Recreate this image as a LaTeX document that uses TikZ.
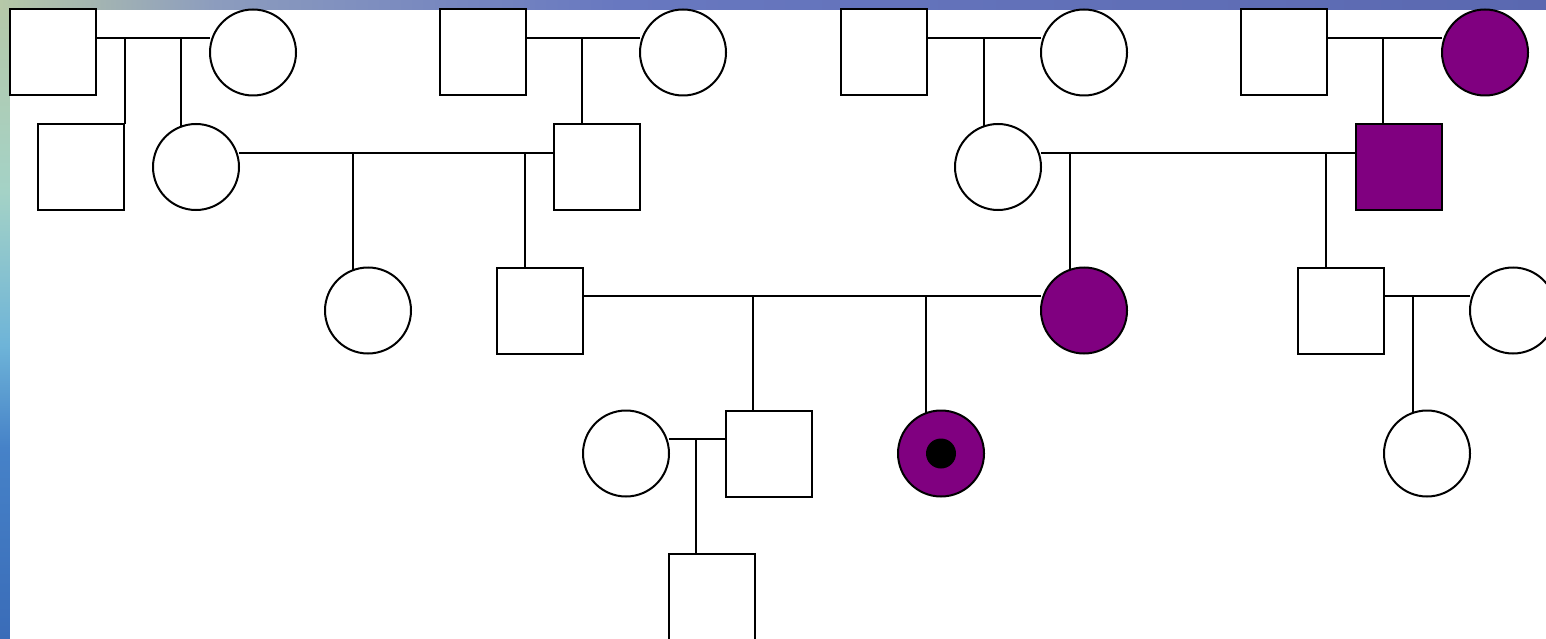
\documentclass[tikz,border=0pt]{standalone}
\usetikzlibrary{calc}
\definecolor{affected}{HTML}{800080}
\definecolor{bgGreen}{HTML}{B6C8A8}
\definecolor{bgGreyBlue}{HTML}{8C9CBE}
\definecolor{bgBlue}{HTML}{6878C0}
\definecolor{bgBlueR}{HTML}{5A68B0}
\definecolor{bgTeal}{HTML}{A4D2C6}
\definecolor{bgCyan}{HTML}{6EB4D8}
\definecolor{bgMid}{HTML}{4682C8}
\definecolor{bgDeep}{HTML}{3A6CB8}
\pgfdeclarehorizontalshading{topstrip}{100bp}{color(0bp)=(bgGreen); color(25bp)=(bgGreen); color(32bp)=(bgGreyBlue); color(45bp)=(bgBlue); color(75bp)=(bgBlueR); color(100bp)=(bgBlueR)}
\pgfdeclareverticalshading{leftstrip}{100bp}{color(0bp)=(bgDeep); color(25bp)=(bgDeep); color(40bp)=(bgMid); color(48bp)=(bgCyan); color(60bp)=(bgTeal); color(75bp)=(bgGreen); color(100bp)=(bgGreen)}
\tikzset{
  person/.style={draw=black, line width=2pt, fill=white, inner sep=0pt, minimum size=86pt},
  male/.style={person, rectangle},
  female/.style={person, circle},
  aff/.style={fill=affected},
  link/.style={line width=2pt, line cap=rect},
}
\begin{document}
\begin{tikzpicture}[x=1pt,y=-1pt]
\useasboundingbox (0,0) rectangle (1546,639);
% background frame
\shade[shading=leftstrip] (0,0) rectangle (10,639);
\shade[shading=topstrip] (0,0) rectangle (1546,10);
\fill[white] (10,10) rectangle (1546,639);

% generation I
\node[male]   (S1) at (53,52.5) {};
\node[female] (C1) at (253,52.5) {};
\node[male]   (S2) at (482.5,52.5) {};
\node[female] (C2) at (683,52.5) {};
\node[male]   (S3) at (883.5,52.5) {};
\node[female] (C3) at (1084,52.5) {};
\node[male]   (S4) at (1284,52.5) {};
\node[female,aff] (C4) at (1485,52.5) {};
% generation II
\node[male]   (S5) at (81,167) {};
\node[female] (C5) at (196,167) {};
\node[male]   (S6) at (597,167) {};
\node[female] (C6) at (998,167) {};
\node[male,aff] (S7) at (1399,167) {};
% generation III
\node[female] (C7) at (368,310.5) {};
\node[male]   (S8) at (539.5,310.5) {};
\node[female,aff] (C8) at (1084,310.5) {};
\node[male]   (S9) at (1341,310.5) {};
\node[female] (C9) at (1513,310.5) {};
% generation IV
\node[female] (C10) at (626,453.5) {};
\node[male]   (S10) at (768.5,453.5) {};
\node[female,aff] (C11) at (941,453.5) {};
\node[circle, fill=black, minimum size=30pt, inner sep=0pt] (dot) at (C11.center) {};
\node[female] (C12) at (1427,453.5) {};
% generation V
\node[male]   (S11) at (711.5,597) {};

% marriage line levels
\coordinate (y1) at (0,38);
\coordinate (y2) at (0,153);
\coordinate (y3) at (0,296);
\coordinate (y4) at (0,439);
% attachment points on square tops
\coordinate (d6)  at ($(S6.north west)+(29,0)$);
\coordinate (d7)  at ($(S7.north west)+(28,0)$);
\coordinate (d8)  at ($(S8.north west)+(29,0)$);
\coordinate (d9)  at ($(S9.north west)+(29,0)$);
\coordinate (d10) at ($(S10.north west)+(28,0)$);
\coordinate (d11) at ($(S11.north west)+(28,0)$);

% marriage lines
\draw[link] (S1.east |- y1) -- (C1.west |- y1);
\draw[link] (S2.east |- y1) -- (C2.west |- y1);
\draw[link] (S3.east |- y1) -- (C3.west |- y1);
\draw[link] (S4.east |- y1) -- (C4.west |- y1);
\draw[link] (C5.east |- y2) -- (S6.west |- y2);
\draw[link] (C6.east |- y2) -- (S7.west |- y2);
\draw[link] (S8.east |- y3) -- (C8.west |- y3);
\draw[link] (S9.east |- y3) -- (C9.west |- y3);
\draw[link] (C10.east |- y4) -- (S10.west |- y4);

% descent lines
\draw[link] (S5.north east |- y1) -- (S5.north east);
\draw[link] (C5.110 |- y1) -- (C5.110);
\draw[link] (d6 |- y1) -- (d6);
\draw[link] (C6.109 |- y1) -- (C6.109);
\draw[link] (d7 |- y1) -- (d7);
\draw[link] (C7.110 |- y2) -- (C7.110);
\draw[link] (d8 |- y2) -- (d8);
\draw[link] (C8.109 |- y2) -- (C8.109);
\draw[link] (d9 |- y2) -- (d9);
\draw[link] (d10 |- y3) -- (d10);
\draw[link] (C11.110 |- y3) -- (C11.110);
\draw[link] (C12.109 |- y3) -- (C12.109);
\draw[link] (d11 |- y4) -- (d11);
\end{tikzpicture}
\end{document}
